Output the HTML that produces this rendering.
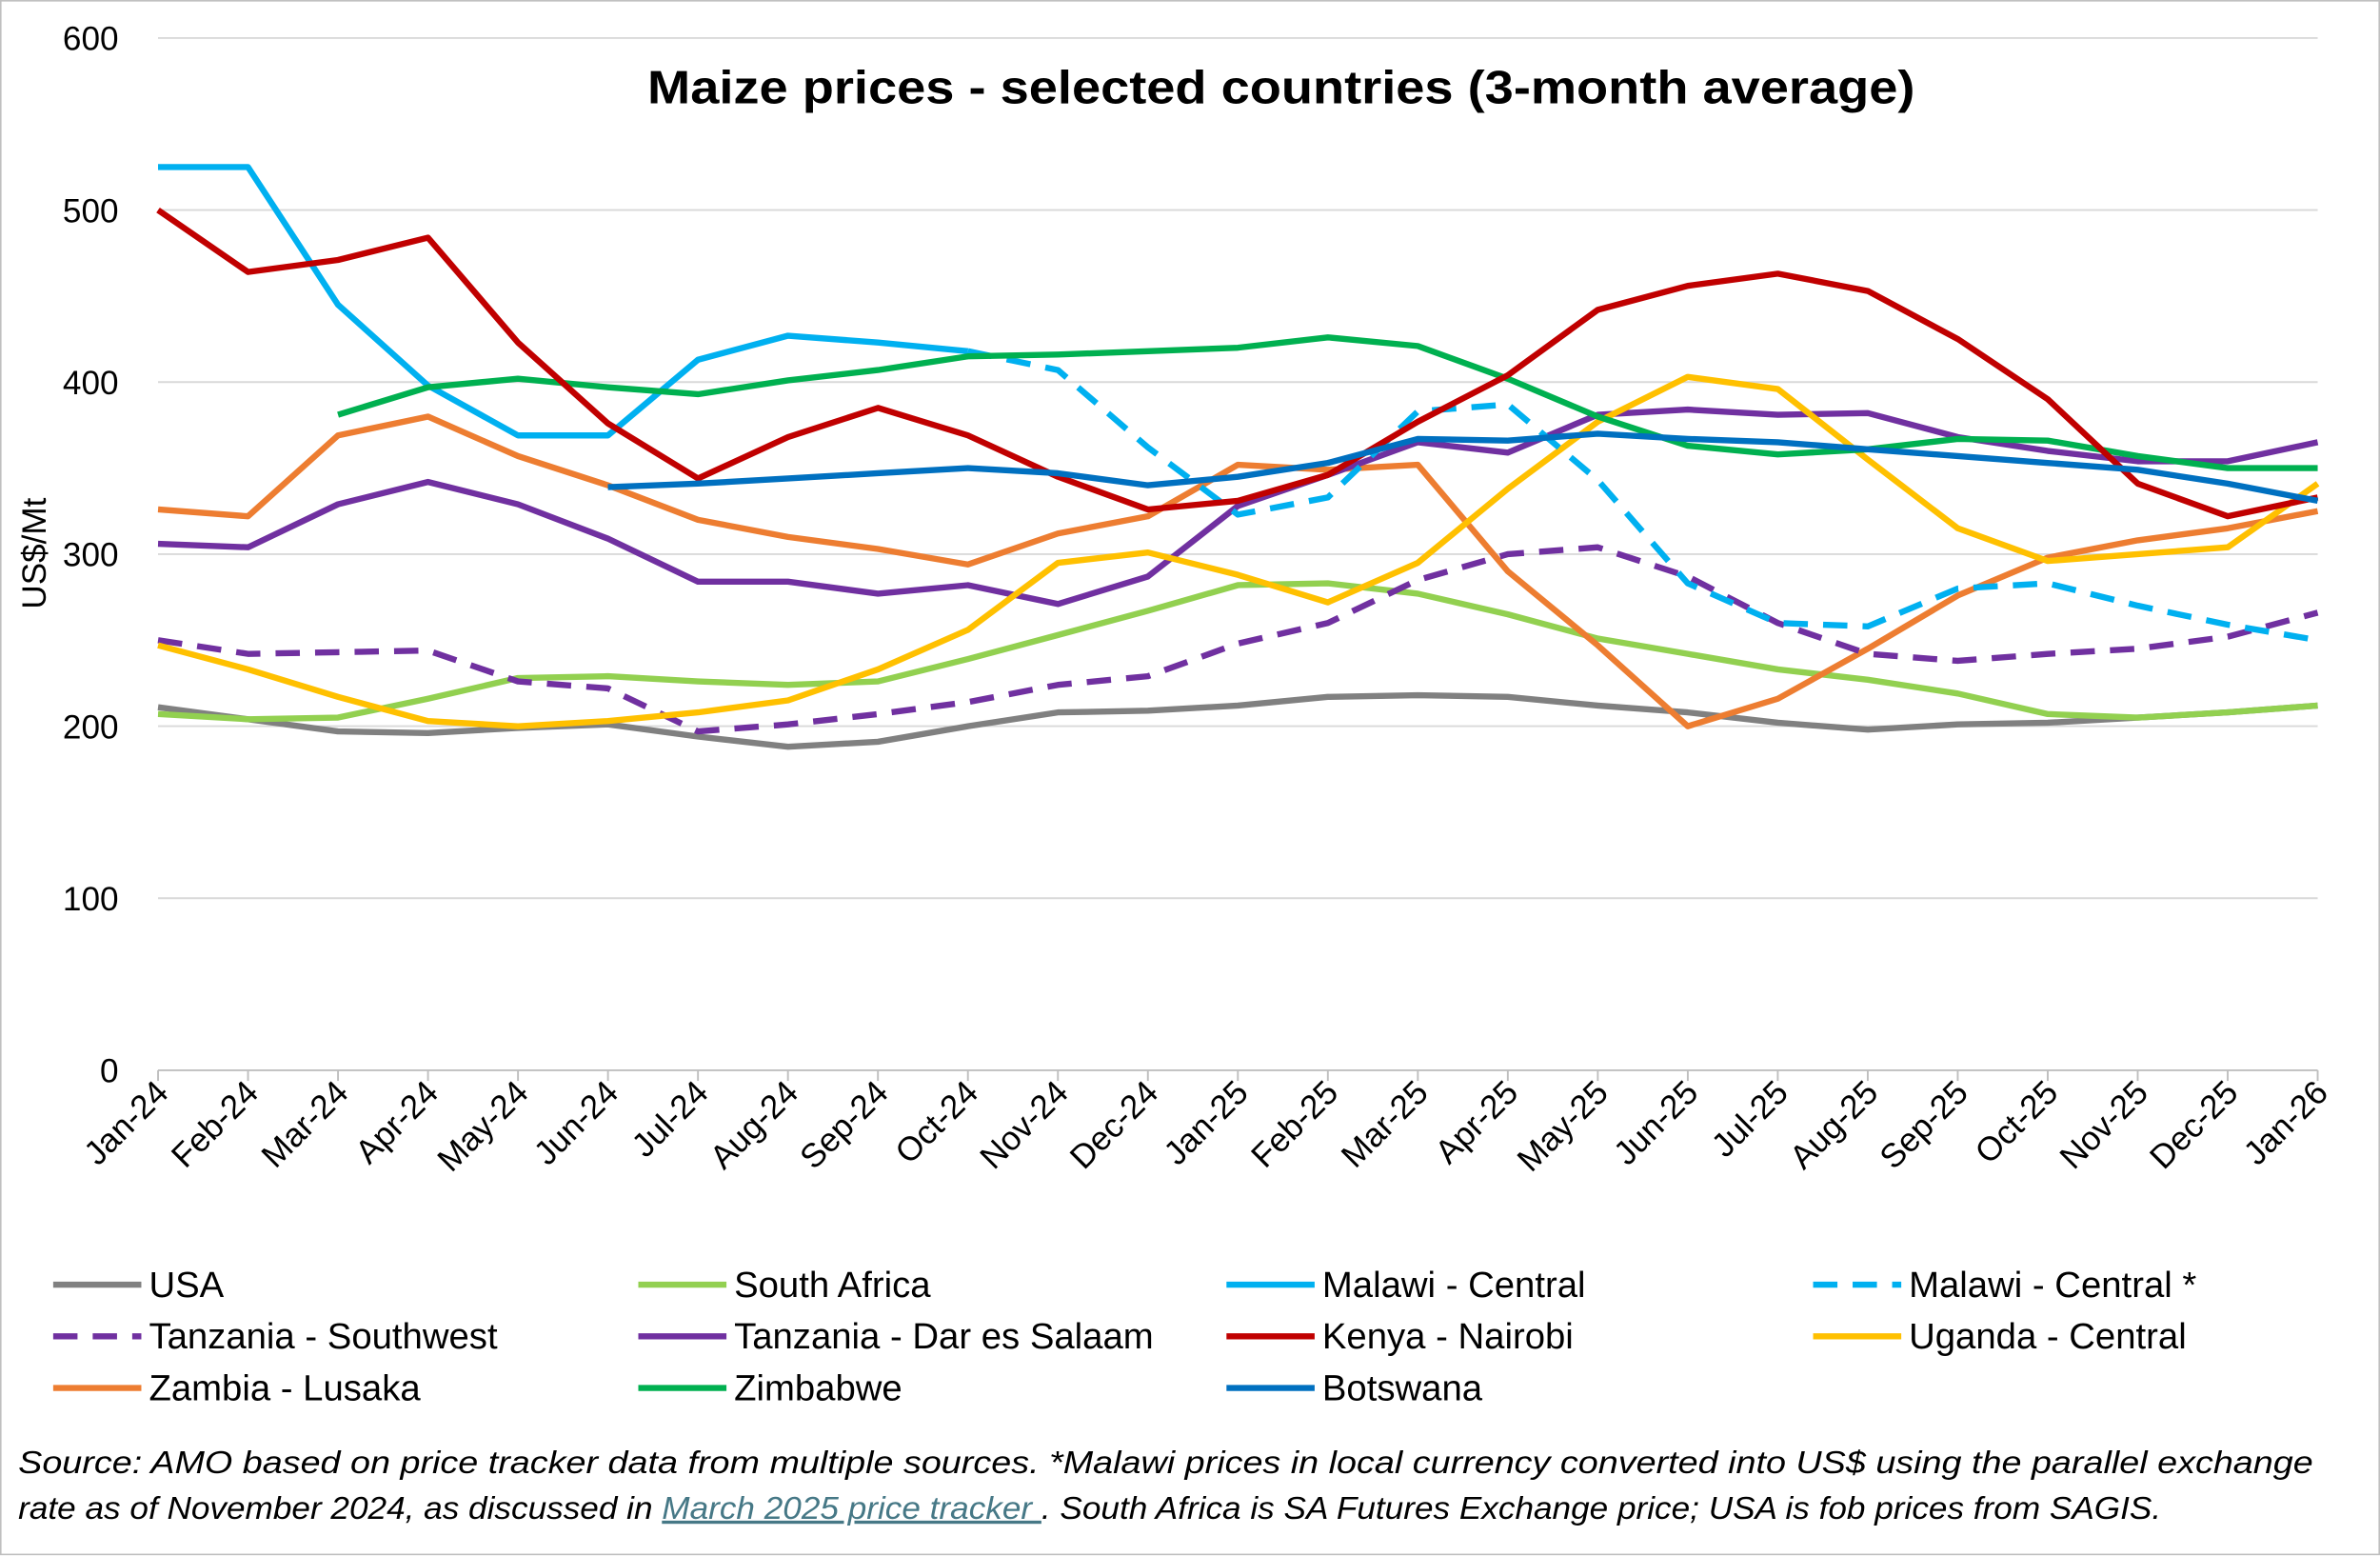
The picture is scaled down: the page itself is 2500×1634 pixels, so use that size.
<!DOCTYPE html>
<html><head><meta charset="utf-8"><style>
html,body{margin:0;padding:0;background:#fff;}
svg{display:block;font-family:"Liberation Sans",Arial,sans-serif;}
</style></head><body>
<svg id="chart" width="2500" height="1634" viewBox="0 0 1566 1023.5" xmlns="http://www.w3.org/2000/svg">
<rect x="0.5" y="0.5" width="1565" height="1022" fill="#fff" stroke="#bfbfbf"/>
<text x="426" y="68" font-size="31" font-weight="bold" fill="#000" textLength="834" lengthAdjust="spacingAndGlyphs">Maize prices - selected countries (3-month average)</text>
<text transform="translate(30,364) rotate(-90)" text-anchor="middle" font-size="22" fill="#000">US$/Mt</text>
<g id="grid"></g><g id="series"></g><g id="xlabels"></g><g id="legend"></g>
<text x="12" y="969" font-size="21" font-style="italic" fill="#000" textLength="1510" lengthAdjust="spacingAndGlyphs">Source: AMO based on price tracker data from multiple sources. *Malawi prices in local currency converted into US$ using the parallel exchange</text>
<text x="12" y="999" font-size="21" font-style="italic" fill="#000" textLength="1410" lengthAdjust="spacingAndGlyphs">rate as of November 2024, as discussed in <tspan fill="#467886" text-decoration="underline">March 2025 price tracker </tspan>. South Africa is SA Futures Exchange price; USA is fob prices from SAGIS.</text>
</svg>
<script>
const months=["Jan-24","Feb-24","Mar-24","Apr-24","May-24","Jun-24","Jul-24","Aug-24","Sep-24","Oct-24","Nov-24","Dec-24","Jan-25","Feb-25","Mar-25","Apr-25","May-25","Jun-25","Jul-25","Aug-25","Sep-25","Oct-25","Nov-25","Dec-25","Jan-26"];
const yTicks=[0,100,200,300,400,500,600];
const _=null;
const usa=[211,204,197,196,199,201,194,188,191,200,208,209,212,217,218,217,212,208,202,198,201,202,205,208,212];
const southAfrica=[207,204,205,216,228,229,226,224,226,239,253,267,282,283,277,265,251,242,233,227,219,207,205,208,212];
const malawi=[525,525,445,398,369,369,413,427,423,418,_,_,_,_,_,_,_,_,_,_,_,_,_,_,_];
const malawiStar=[_,_,_,_,_,_,_,_,_,418,407,362,323,333,383,387,343,283,260,258,280,283,270,259,250];
const tanzaniaSW=[250,242,243,244,226,222,197,201,207,214,224,229,248,260,285,300,304,287,260,242,238,242,245,252,266];
const tanzaniaDar=[306,304,329,342,329,309,284,284,277,282,271,287,328,346,365,359,381,384,381,382,368,360,354,354,365];
const kenya=[500,464,471,484,423,376,344,368,385,369,345,326,331,346,377,404,442,456,463,453,425,390,341,322,333];
const uganda=[247,233,217,203,200,203,208,215,233,256,295,301,288,272,295,338,377,403,396,355,315,296,300,304,341];
const zambia=[326,322,369,380,357,340,320,310,303,294,312,322,352,349,352,290,247,200,216,245,276,298,308,315,325];
const zimbabwe=[_,_,381,397,402,397,393,401,407,415,416,418,420,426,421,402,380,363,358,361,367,366,357,350,350];
const botswana=[_,_,_,_,_,339,341,344,347,350,347,340,345,353,367,366,370,367,365,361,357,353,349,341,331];

const NS="http://www.w3.org/2000/svg";
const x0=104,x1=1525,y0=704,yTop=25;
const X=i=>x0+i*(x1-x0)/(months.length-1);
const Y=v=>y0-v*(y0-yTop)/600;
function mk(tag,attrs,parent){const e=document.createElementNS(NS,tag);for(const k in attrs)e.setAttribute(k,attrs[k]);parent.appendChild(e);return e;}
const grid=document.getElementById('grid');
yTicks.forEach(t=>{
  const l=mk('line',{x1:x0,x2:x1,y1:Y(t),y2:Y(t),stroke:t===0?'#bfbfbf':'#d9d9d9','stroke-width':1.2},grid);
  
  
  const tx=mk('text',{x:78,y:Y(t)+8,'text-anchor':'end','font-size':22,fill:'#000'},grid);
  tx.textContent=t;
  
  
});
const xl=document.getElementById('xlabels');
months.forEach((m,i)=>{
  const tk=mk('line',{x1:X(i),x2:X(i),y1:y0,y2:y0+7,stroke:'#bfbfbf','stroke-width':1.2},xl);
  
  
  const t=mk('text',{transform:`translate(${X(i)+8},${y0+16}) rotate(-45)`,'text-anchor':'end','font-size':22,fill:'#000'},xl);
  t.textContent=m;
  
  
});
const series=[
 {name:"USA",d:usa,c:"#808080",dash:false},
 {name:"South Africa",d:southAfrica,c:"#92d050",dash:false},
 {name:"Malawi - Central",d:malawi,c:"#00b0f0",dash:false},
 {name:"Malawi - Central *",d:malawiStar,c:"#00b0f0",dash:true},
 {name:"Tanzania -  Southwest",d:tanzaniaSW,c:"#7030a0",dash:true},
 {name:"Tanzania - Dar es Salaam",d:tanzaniaDar,c:"#7030a0",dash:false},
 {name:"Kenya - Nairobi",d:kenya,c:"#c00000",dash:false},
 {name:"Uganda - Central",d:uganda,c:"#ffc000",dash:false},
 {name:"Zambia - Lusaka",d:zambia,c:"#ed7d31",dash:false},
 {name:"Zimbabwe",d:zimbabwe,c:"#00b050",dash:false},
 {name:"Botswana",d:botswana,c:"#0070c0",dash:false}
];
const sg=document.getElementById('series');
const order=[0,1,8,4,5,7,2,3,9,6,10];
order.forEach(k=>{
  const s=series[k];let p='';let started=false;
  s.d.forEach((v,i)=>{if(v==null){started=false;return;}p+=(started?'L':'M')+X(i).toFixed(1)+','+Y(v).toFixed(1);started=true;});
  const a={d:p,fill:'none',stroke:s.c,'stroke-width':4,'stroke-linejoin':'round'};
  if(s.dash)a['stroke-dasharray']='16,10';
  const e=mk('path',a,sg);
  
  
});
const lg=document.getElementById('legend');
const cols=[35,420,807,1193],rows=[845,879,913];
series.forEach((s,i)=>{
  const cx=cols[i%4],cy=rows[Math.floor(i/4)];
  const g=mk('g',{},lg);
  
  
  const a={x1:cx,x2:cx+58,y1:cy,y2:cy,stroke:s.c,'stroke-width':4};
  if(s.dash)a['stroke-dasharray']='16,10';
  mk('line',a,g);
  const t=mk('text',{x:cx+63,y:cy+8,'font-size':24,fill:'#000','xml:space':'preserve'},g);
  t.textContent=s.name;
});
</script>
</body></html>
